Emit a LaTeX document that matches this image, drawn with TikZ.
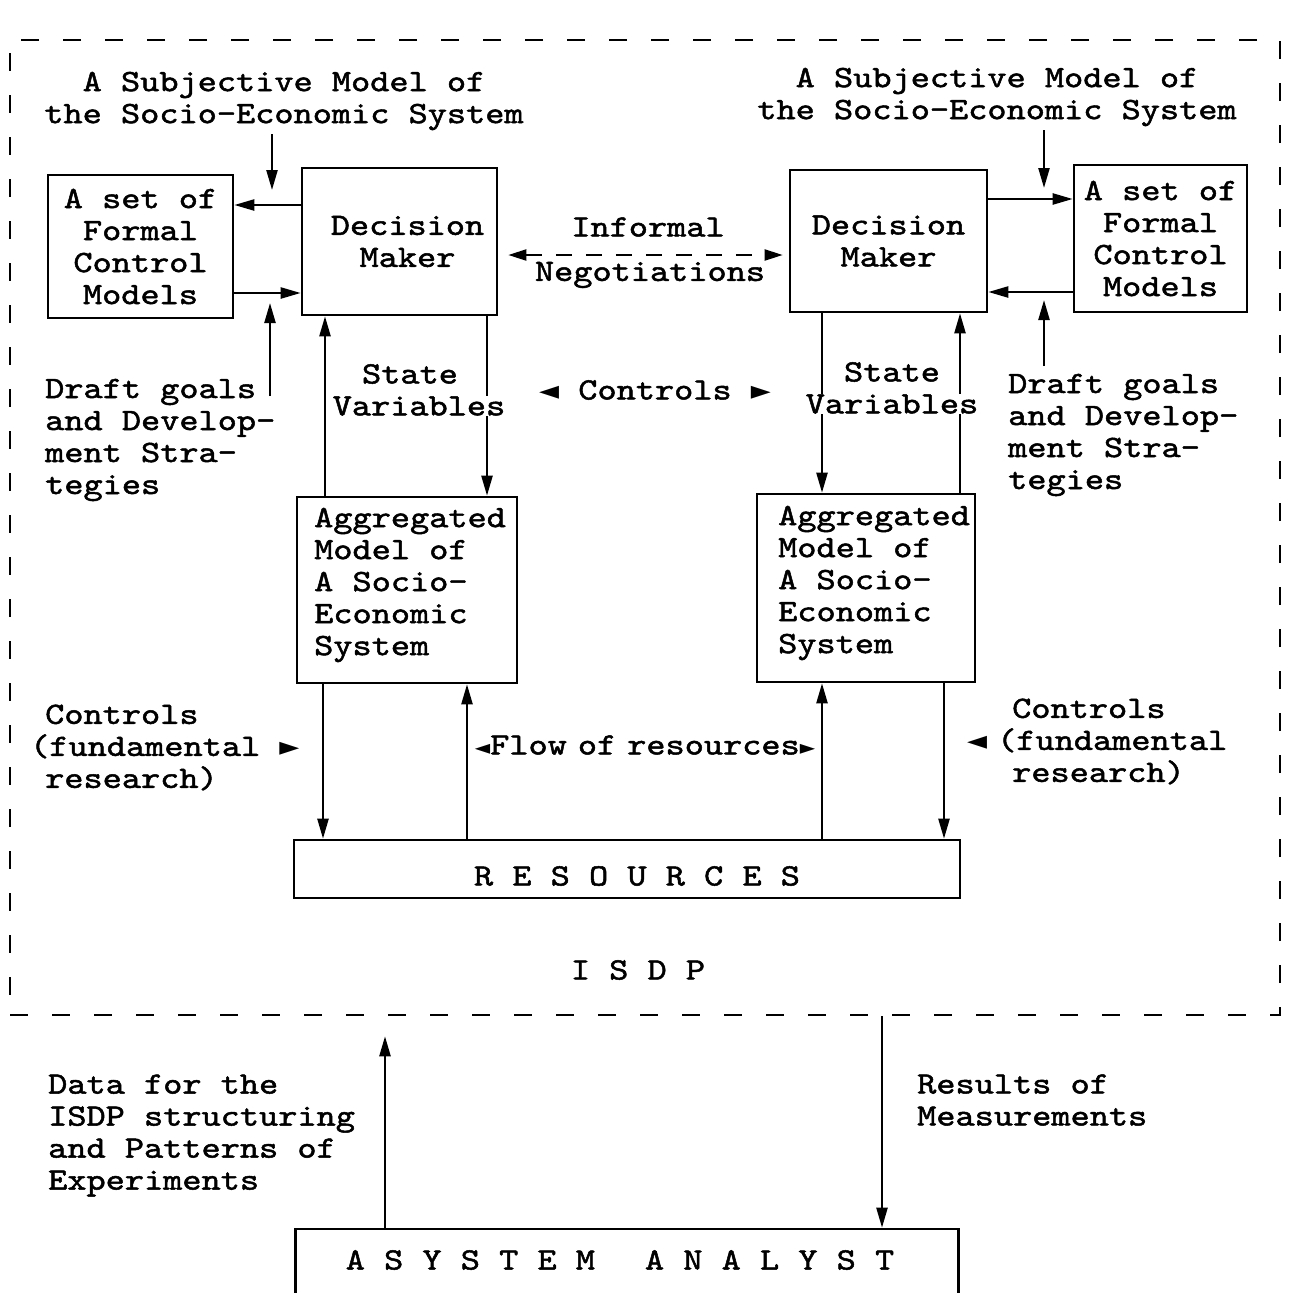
\documentclass[tikz,border=0pt]{standalone}
\usepackage{fontspec}
\setmainfont{lmmono10-regular.otf}[FakeBold=1.6,FakeStretch=1.178]
\newfontfamily\symfont{DejaVu Sans}
\usetikzlibrary{arrows.meta}
\newcommand\twfont{\fontsize{31}{32}\selectfont}
\newcommand\ltri{{\symfont\fontsize{26}{26}\selectfont ◄}}
\newcommand\rtri{{\symfont\fontsize{26}{26}\selectfont ►}}
\newcommand\sltri{{\symfont\fontsize{20}{20}\selectfont ◄}}
\newcommand\srtri{{\symfont\fontsize{20}{20}\selectfont ►}}
\begin{document}
\begin{tikzpicture}[x=1pt,y=-1pt,
  every node/.style={font=\twfont},
  box/.style={draw,line width=2.6pt,inner sep=0pt},
  txt/.style={inner sep=0pt},
  arr/.style={line width=2.3pt,-{Triangle[length=20pt,width=11pt]}},
  negarr/.style={line width=2pt,dash pattern=on 16pt off 14pt,{Triangle[length=18pt,width=11pt]}-{Triangle[length=18pt,width=11pt]}},
  border/.style={draw,line width=2.5pt,dash pattern=on 18pt off 24pt,inner sep=0pt}]
\clip (0,0) rectangle (1288,1293);
\fill[white] (0,0) rectangle (1288,1293);

% outer ISDP border
\node[border,minimum width=1270pt,minimum height=975pt] (isdp) at (645,527.5) {};

% boxes
\node[box,minimum width=185pt,minimum height=143pt,align=center] (setL) at (140.5,246.5) {A set of\\Formal\\Control\\Models};
\node[box,minimum width=195pt,minimum height=147pt,align=center] (dmL) at (399.5,241.5) {\hspace*{16pt}Decision\\\hspace*{16pt}Maker};
\node[box,minimum width=197pt,minimum height=142pt,align=center] (dmR) at (888.5,241) {Decision\\Maker};
\node[box,minimum width=173pt,minimum height=147pt,align=center] (setR) at (1160.5,238.5) {A set of\\Formal\\Control\\Models};
\node[box,minimum width=220pt,minimum height=186pt] (aggL) at (407,590) {};
\node[box,minimum width=218pt,minimum height=188pt] (aggR) at (866,588) {};
\node[box,minimum width=666pt,minimum height=58pt] (res) at (627,869) {};
\node[box,minimum width=663pt,minimum height=82pt] (sa) at (627,1270) {};

% texts in boxes
\node[txt,align=left,anchor=west] (aggLt) at (314,585) {Aggregated\\Model of\\A Socio-\\Economic\\System};
\node[txt,align=left,anchor=west] (aggRt) at (778,583) {Aggregated\\Model of\\A Socio-\\Economic\\System};
\node[txt] (rest) at (637,876) {R E S O U R C E S};
\node[txt] (sat) at (620,1260) {A S Y S T E M\hspace{50pt}A N A L Y S T};
\node[txt] (isdpt) at (638,970) {I S D P};

% free ends / columns
\coordinate (yA) at (0,205);
\coordinate (yB) at (0,293);
\coordinate (yC) at (0,199);
\coordinate (yD) at (0,292);
\coordinate (yN) at (0,255);
\coordinate (xa) at (325,0);
\coordinate (xb) at (487,0);
\coordinate (xc) at (822,0);
\coordinate (xd) at (960,0);
\coordinate (xe) at (323,0);
\coordinate (xf) at (467,0);
\coordinate (xg) at (822,0);
\coordinate (xh) at (944,0);
\coordinate (xi) at (385,0);
\coordinate (xj) at (882,0);
\coordinate (tipL) at (272,190);
\coordinate (tipR) at (1044,188);
\coordinate (dgL0) at (270,396);
\coordinate (dgL1) at (270,303);
\coordinate (dgR0) at (1044,366);
\coordinate (dgR1) at (1044,300);

% top texts
\node[txt,align=center] (subjL) at (284,101) {A Subjective Model of\\the Socio-Economic System};
\node[txt,align=center] (subjR) at (997,97) {A Subjective Model of\\the Socio-Economic System};

% arrows
\draw[arr,shorten <=4pt] (subjL.south -| tipL) -- (tipL);
\draw[arr,shorten <=4pt] (subjR.south -| tipR) -- (tipR);
\draw[arr] (dmL.west |- yA) -- (setL.east |- yA);
\draw[arr] (setL.east |- yB) -- (dmL.west |- yB);
\draw[arr] (dmR.east |- yC) -- (setR.west |- yC);
\draw[arr] (setR.west |- yD) -- (dmR.east |- yD);
\draw[arr] (dgL0) -- (dgL1);
\draw[arr] (dgR0) -- (dgR1);
\draw[negarr,shorten <=10pt,shorten >=6pt] (dmL.east |- yN) -- (dmR.west |- yN);
\draw[arr] (aggL.north -| xa) -- (dmL.south -| xa);
\draw[arr] (dmL.south -| xb) -- (aggL.north -| xb);
\draw[arr] (dmR.south -| xc) -- (aggR.north -| xc);
\draw[arr] (aggR.north -| xd) -- (dmR.south -| xd);
\draw[arr] (aggL.south -| xe) -- (res.north -| xe);
\draw[arr] (res.north -| xf) -- (aggL.south -| xf);
\draw[arr] (res.north -| xg) -- (aggR.south -| xg);
\draw[arr] (aggR.south -| xh) -- (res.north -| xh);
\draw[arr,shorten >=20pt] (sa.north -| xi) -- (isdp.south -| xi);
\draw[arr] (isdp.south -| xj) -- (sa.north -| xj);

% labels
\node[txt] (informal) at (648,227) {Informal};
\node[txt] (negot) at (650,275) {Negotiations};
\node[txt] (stateL) at (410,374) {State};
\node[txt,fill=white] (varL) at (419,406) {Variables};
\node[txt] (stateR) at (892,372) {State};
\node[txt,fill=white] (varR) at (892,404) {Variables};
\node[txt] (ctrlM) at (655,390) {\ltri{} Controls \rtri};
\node[txt,align=left,anchor=west] (draftL) at (45,440) {Draft goals\\and Develop-\\ment Stra-\\tegies};
\node[txt,align=left,anchor=west] (draftR) at (1008,435) {Draft goals\\and Develop-\\ment Stra-\\tegies};
\node[txt,align=left,anchor=west] (ctrlL) at (45,747.5) {Controls\\\hspace*{-15pt}(fundamental \rtri\\research)};
\node[txt,align=left,anchor=west] (ctrlR) at (1012,741.5) {Controls\\\hspace*{-15pt}\llap{\ltri\hspace{10pt}}(fundamental\\research)};
\node[txt] (flow) at (645,745) {\sltri Flow\hspace{11pt}of\hspace{11pt}resources\srtri};
\node[txt,align=left,anchor=west] (dataL) at (48,1135.5) {Data for the\\ISDP structuring\\and Patterns of\\Experiments};
\node[txt,align=left,anchor=west] (resM) at (917,1100) {Results of\\Measurements};
\end{tikzpicture}
\end{document}
